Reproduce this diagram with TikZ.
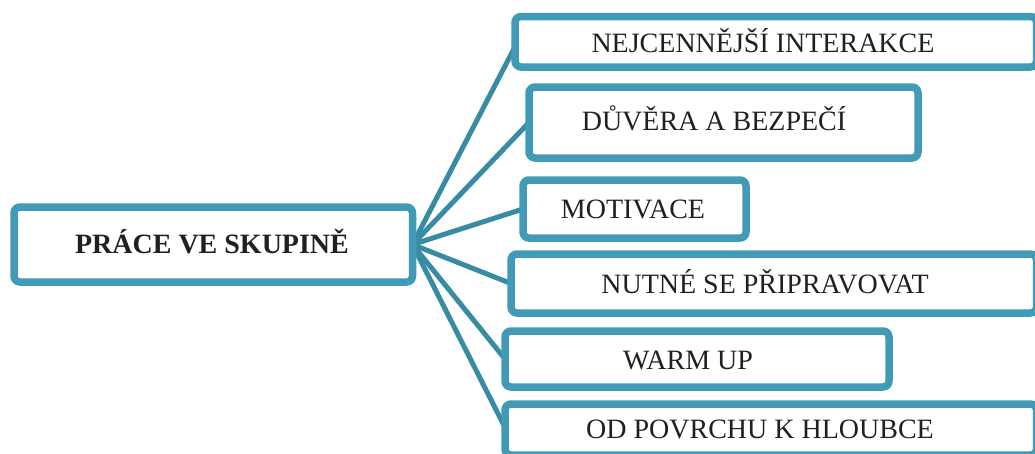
\documentclass[tikz,border=0pt]{standalone}
\usepackage{fontspec}
\setmainfont{Liberation Serif}
\usetikzlibrary{shadows,backgrounds}
\definecolor{boxteal}{HTML}{419BB6}
\definecolor{lineteal}{HTML}{378BA3}
\definecolor{txtdark}{HTML}{231F20}
\tikzset{
  box/.style={draw=boxteal, line width=7.5pt, fill=white, rounded corners=6pt,
    inner sep=0pt, outer sep=0pt,
    drop shadow={shadow xshift=1.5pt, shadow yshift=-3pt, opacity=0.3, fill=black!60}},
  txt/.style={anchor=base, inner sep=0pt, text=txtdark, font=\fontsize{28}{32}\selectfont},
  conn/.style={draw=lineteal, line width=5pt}
}
\begin{document}
\begin{tikzpicture}[x=1pt,y=-1pt]
\useasboundingbox (0,0) rectangle (1035,453);
\clip (0,0) rectangle (1035,453);
\node[box, minimum width=398.5pt, minimum height=75pt] (c) at (213.25,244.5) {};
\node[box, minimum width=521.5pt, minimum height=50.5pt] (b1) at (775.75,41.75) {};
\node[box, minimum width=389pt, minimum height=71pt] (b2) at (723.5,122.5) {};
\node[box, minimum width=223pt, minimum height=58pt] (b3) at (634.5,209) {};
\node[box, minimum width=525.5pt, minimum height=59pt] (b4) at (773.75,283.5) {};
\node[box, minimum width=384pt, minimum height=56pt] (b5) at (697,359) {};
\node[box, minimum width=531.5pt, minimum height=51pt] (b6) at (770.75,429.5) {};
\node[txt, font=\fontsize{28}{32}\selectfont\bfseries] (tc) at (212,253) {PRÁCE VE SKUPINĚ};
\node[txt] (t1) at (763,52) {NEJCENNĚJŠÍ INTERAKCE};
\node[txt] (t2) at (714,130) {DŮVĚRA A BEZPEČÍ};
\node[txt] (t3) at (633,218) {MOTIVACE};
\node[txt] (t4) at (765,293) {NUTNÉ SE PŘIPRAVOVAT};
\node[txt] (t5) at (688,369) {WARM UP};
\node[txt] (t6) at (760,438) {OD POVRCHU K HLOUBCE};
\begin{scope}[on background layer]
\draw[conn] (c.east) -- ([yshift=-5pt]b1.west);
\draw[conn] (c.east) -- (b2.west);
\draw[conn] (c.east) -- (b3.west);
\draw[conn] (c.east) -- (b4.west);
\draw[conn] (c.east) -- (b5.west);
\draw[conn] (c.east) -- ([yshift=2pt]b6.west);
\end{scope}
\end{tikzpicture}
\end{document}
